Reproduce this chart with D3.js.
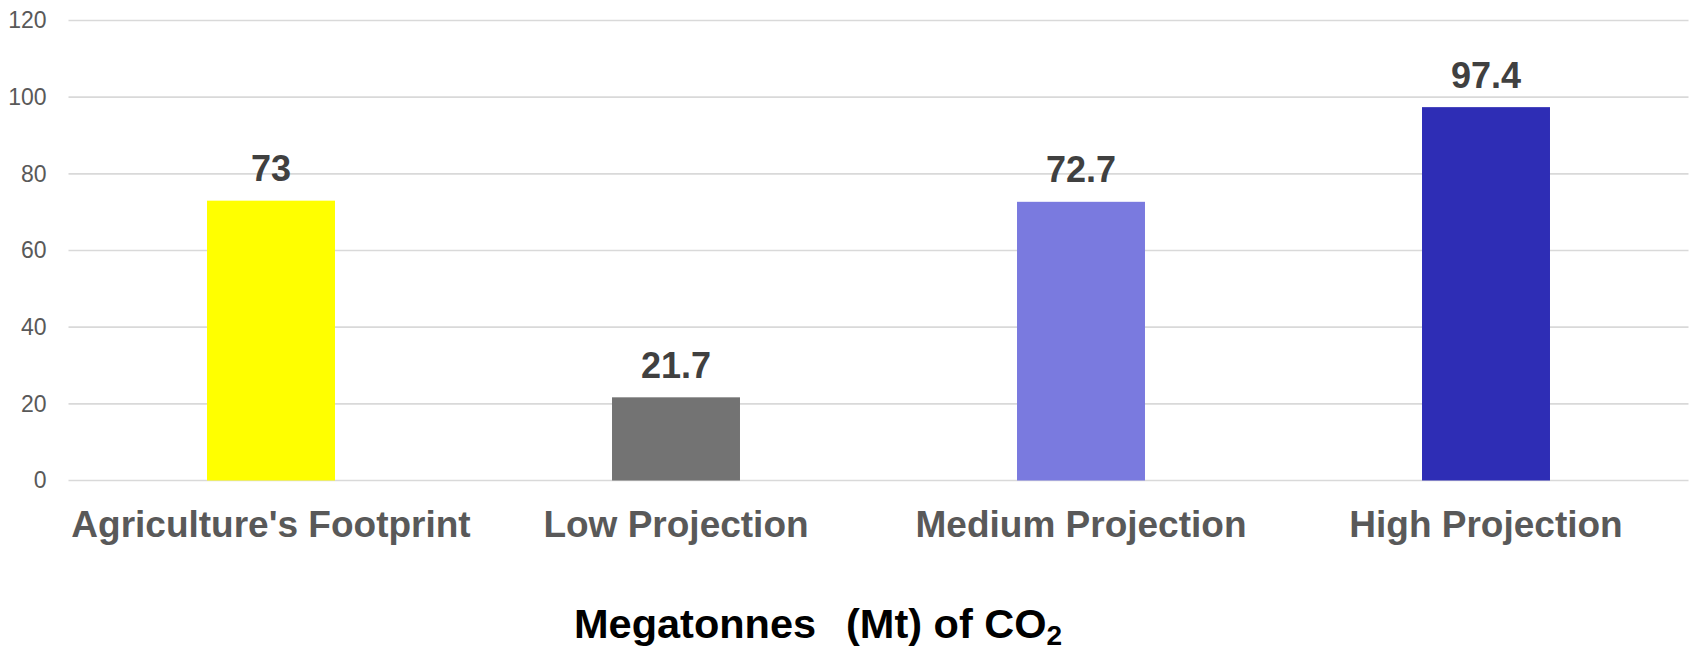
<!DOCTYPE html>
<html>
<head>
<meta charset="utf-8">
<script src="https://cdn.jsdelivr.net/npm/d3@7"></script>
<style>
  html, body { margin: 0; padding: 0; background: #fff; }
  svg { display: block; }
</style>
</head>
<body>
<svg id="chart" width="1692" height="648"></svg>
<script>
// Data
const categories = ["Agriculture's Footprint", "Low Projection", "Medium Projection", "High Projection"];
const values = [73, 21.7, 72.7, 97.4];
const barColors = ["#FFFF00", "#737373", "#7A7ADF", "#2E2DB5"];
const yTicks = [0, 20, 40, 60, 80, 100, 120];

const W = 1692, H = 648;
const margin = { left: 68.5, right: 3.5, top: 20.5, bottom: 167.5 };

const svg = d3.select("#chart");

const x = d3.scaleBand()
  .domain(categories)
  .range([margin.left, W - margin.right])
  .paddingInner(0.684)
  .paddingOuter(0.342);

const y = d3.scaleLinear()
  .domain([0, 120])
  .range([H - margin.bottom, margin.top]);

// Horizontal gridlines
svg.append("g")
  .selectAll("line")
  .data(yTicks)
  .join("line")
  .attr("x1", margin.left)
  .attr("x2", W - margin.right)
  .attr("y1", d => y(d))
  .attr("y2", d => y(d))
  .attr("stroke", "#D9D9D9")
  .attr("stroke-width", 1.6);

// Y axis labels
const yAxis = d3.axisLeft(y).tickValues(yTicks).tickSize(0).tickPadding(22);
const yg = svg.append("g")
  .attr("transform", `translate(${margin.left},0)`)
  .call(yAxis);
yg.select(".domain").remove();
yg.selectAll("text")
  .attr("font-family", "Liberation Sans, Arial, sans-serif")
  .attr("font-size", 23)
  .attr("fill", "#595959");

// Bars
svg.append("g")
  .selectAll("rect")
  .data(values)
  .join("rect")
  .attr("x", (d, i) => x(categories[i]))
  .attr("width", x.bandwidth())
  .attr("y", d => y(d))
  .attr("height", d => y(0) - y(d))
  .attr("fill", (d, i) => barColors[i]);

// Value labels
svg.append("g")
  .selectAll("text")
  .data(values)
  .join("text")
  .attr("x", (d, i) => x(categories[i]) + x.bandwidth() / 2)
  .attr("y", d => y(d) - 19.5)
  .attr("text-anchor", "middle")
  .attr("font-family", "Liberation Sans, Arial, sans-serif")
  .attr("font-weight", "bold")
  .attr("font-size", 36)
  .attr("fill", "#404040")
  .text(d => d);

// Category labels
svg.append("g")
  .selectAll("text")
  .data(categories)
  .join("text")
  .attr("x", d => x(d) + x.bandwidth() / 2)
  .attr("y", 537)
  .attr("text-anchor", "middle")
  .attr("font-family", "Liberation Sans, Arial, sans-serif")
  .attr("font-weight", "bold")
  .attr("font-size", 37)
  .attr("fill", "#595959")
  .text(d => d);

// Axis title
const title = svg.append("text")
  .attr("y", 638)
  .attr("font-family", "Liberation Sans, Arial, sans-serif")
  .attr("font-weight", "bold")
  .attr("font-size", 41.5)
  .attr("fill", "#000");
title.append("tspan").attr("x", 574).text("Megatonnes");
title.append("tspan").attr("x", 846).text("(Mt) of CO");
title.append("tspan").attr("font-size", 28).attr("dy", 7).text("2");
</script>
</body>
</html>
